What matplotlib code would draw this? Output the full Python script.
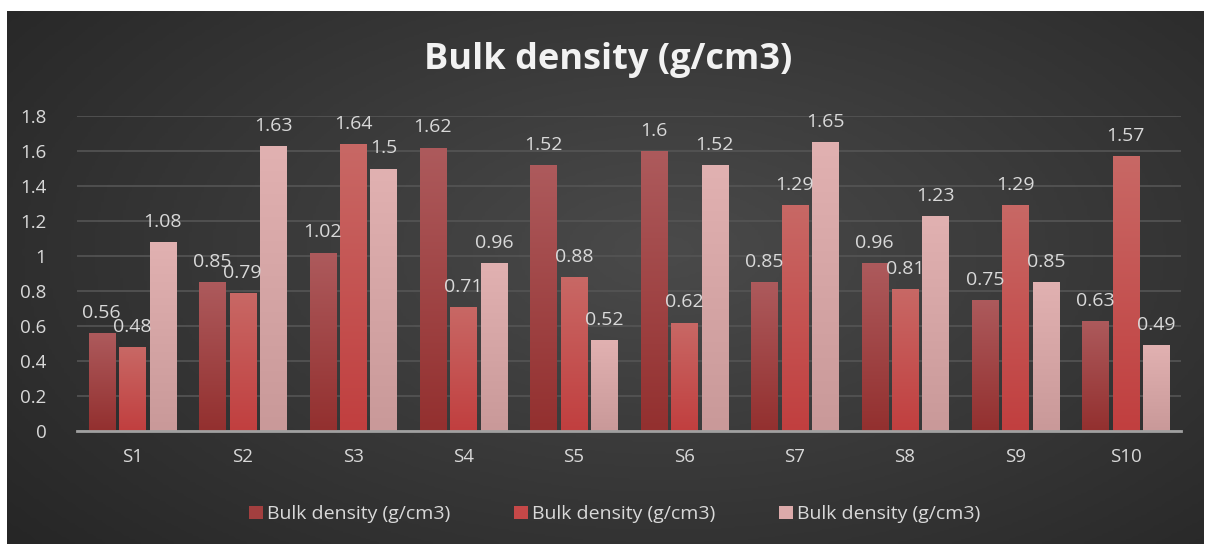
import matplotlib.pyplot as plt
import matplotlib.colors as mcolors
import numpy as np

# Bulk density for three samples per site (all three series share the same name)
sites = ['S1', 'S2', 'S3', 'S4', 'S5', 'S6', 'S7', 'S8', 'S9', 'S10']
series_a = [0.56, 0.85, 1.02, 1.62, 1.52, 1.6, 0.85, 0.96, 0.75, 0.63]
series_b = [0.48, 0.79, 1.64, 0.71, 0.88, 0.62, 1.29, 0.81, 1.29, 1.57]
series_c = [1.08, 1.63, 1.5, 0.96, 0.52, 1.52, 1.65, 1.23, 0.85, 0.49]
series_name = 'Bulk density (g/cm3)'
yticks = [0, 0.2, 0.4, 0.6, 0.8, 1, 1.2, 1.4, 1.6, 1.8]

# (top colour, bottom colour, legend colour)
styles = [('#ad5a5c', '#93302f', '#a23f3f'),
          ('#c86865', '#c13f3f', '#c54848'),
          ('#e1b1b1', '#c99999', '#dcaaaa')]

plt.rcParams['font.family'] = ['Open Sans', 'DejaVu Sans']
txt = '#d9d9d9'

fig = plt.figure(figsize=(12.05, 5.45), dpi=100)
fig.patch.set_facecolor('white')

# dark gradient background panel
bg = fig.add_axes([7 / 1205, 1 / 545, 1197 / 1205, 533 / 545], zorder=0)
gx, gy = np.meshgrid(np.linspace(0, 1, 400), np.linspace(0, 1, 200))
r = np.sqrt(((gx - 0.55) / 0.75) ** 2 + ((gy - 0.55) / 0.9) ** 2)
r = np.clip(r, 0, 1)
bgcmap = mcolors.LinearSegmentedColormap.from_list('bg', ['#4a4a4a', '#262626'])
bg.imshow(r, cmap=bgcmap, aspect='auto', extent=[0, 1, 0, 1], origin='lower')
bg.set_axis_off()

ax = fig.add_axes([77 / 1205, 1 - 431 / 545, 1104 / 1205, 315 / 545], zorder=1)
ax.patch.set_alpha(0)

x = np.arange(len(sites))
width = 0.236
step = 0.276
all_series = [series_a, series_b, series_c]

grad = np.linspace(1, 0, 100).reshape(-1, 1)
for i, (vals, (top, bot, leg)) in enumerate(zip(all_series, styles)):
    pos = x + (i - 1) * step
    bars = ax.bar(pos, vals, width, color=leg, label=series_name, zorder=2)
    cmap = mcolors.LinearSegmentedColormap.from_list('g%d' % i, [bot, top])
    for b in bars:
        x0, y0 = b.get_x(), b.get_y()
        w, h = b.get_width(), b.get_height()
        im = ax.imshow(grad, cmap=cmap, aspect='auto', origin='upper',
                       extent=[x0, x0 + w, y0, y0 + h], zorder=3)
        im.set_clip_path(b)
    for p, v in zip(pos, vals):
        ax.annotate(f'{v:g}', (p, v), xytext=(0, 8), textcoords='offset points',
                    ha='center', va='bottom', color=txt, fontsize=14, zorder=4)

ax.set_xlim(-0.5, len(sites) - 0.5)
ax.set_ylim(0, 1.8)
ax.set_yticks(yticks)
ax.set_yticklabels([f'{t:g}' for t in yticks])
ax.set_xticks(x)
ax.set_xticklabels(sites)
ax.tick_params(axis='both', length=0, colors=txt, labelsize=13.5)
ax.tick_params(axis='y', pad=22)
ax.tick_params(axis='x', pad=12)
ax.yaxis.grid(True, color='#555555', linewidth=1.2, zorder=0)
ax.set_axisbelow(True)
for s in ['top', 'right', 'left']:
    ax.spines[s].set_visible(False)
ax.spines['bottom'].set_color('#a0a0a0')
ax.spines['bottom'].set_linewidth(2)
ax.spines['bottom'].set_zorder(5)

fig.text(0.505, 1 - 60 / 545, 'Bulk density (g/cm3)', ha='center', va='center',
         color='#f2f2f2', fontsize=26, fontweight='bold')

leg = ax.legend(loc='center', bbox_to_anchor=(0.487, -0.265), ncol=3, frameon=False,
                fontsize=14, handlelength=0.7, handleheight=0.7, handletextpad=0.2,
                columnspacing=3.3)
for t in leg.get_texts():
    t.set_color(txt)

fig.savefig('out.png', dpi=100)
